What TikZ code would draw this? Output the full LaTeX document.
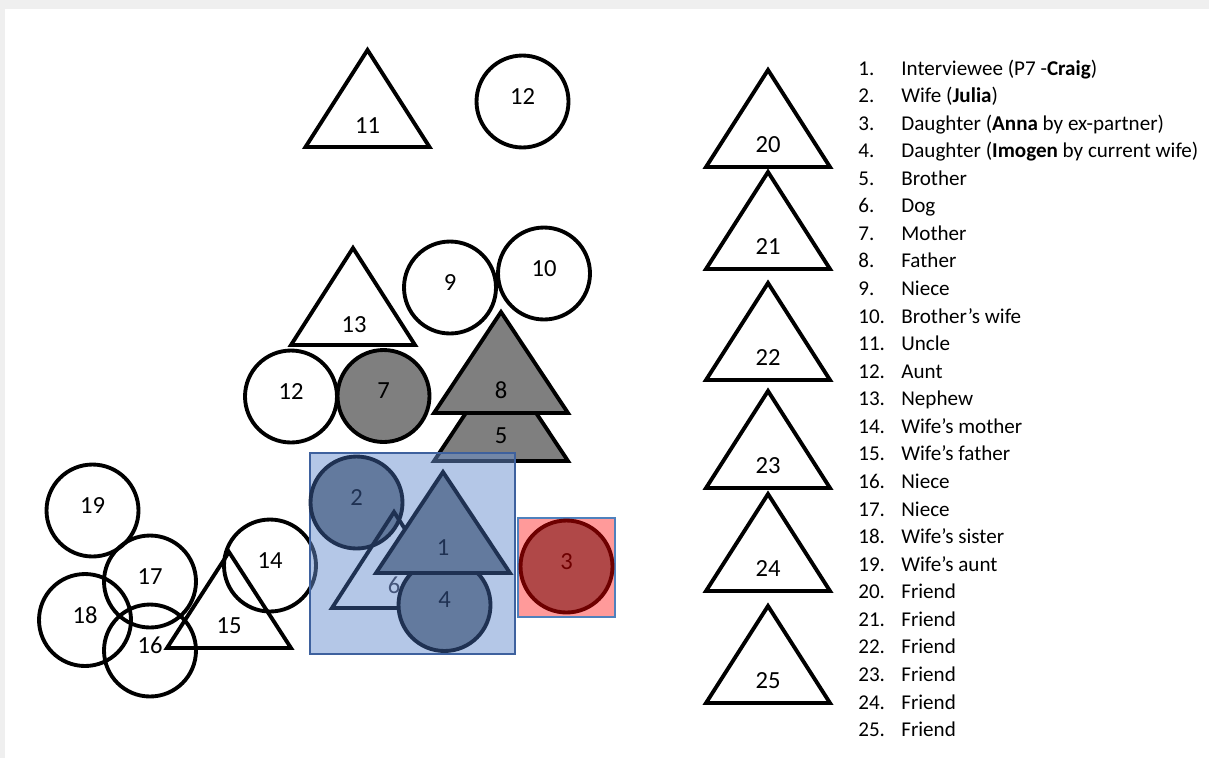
\documentclass[tikz,border=0pt]{standalone}
\usepackage{fontspec}
\setmainfont{Carlito}
\definecolor{cgrey}{HTML}{7F7F7F}
\definecolor{cnavy}{HTML}{1F3152}
\definecolor{cslate}{HTML}{637A9E}
\definecolor{cdog}{HTML}{44557A}
\definecolor{cboxfill}{HTML}{698FCF}
\definecolor{cboxedge}{HTML}{3E619E}
\definecolor{cpink}{HTML}{FF9A9A}
\definecolor{cpinkedge}{HTML}{4F81BD}
\definecolor{credfill}{HTML}{B04848}
\definecolor{cdarkred}{HTML}{6E0000}
\definecolor{cframe}{HTML}{EFEFEF}
\tikzset{
  every picture/.style={x=0.02cm, y=-0.02cm},
  person/.style={circle, draw=black, line width=2.2pt, minimum size=1.84cm, inner sep=0pt, text depth=0.2cm, font=\fontsize{14}{16}\selectfont},
  male/.style={draw=black, line width=2.2pt},
  tag/.style={inner sep=0pt, font=\fontsize{14}{16}\selectfont},
  item/.style={anchor=base west, inner sep=0pt, font=\fontsize{12}{14}\selectfont},
}

\begin{document}
\begin{tikzpicture}
  \useasboundingbox (0,0) rectangle (1209,758);
  \fill[cframe] (0,0) rectangle (1209,9);
  \fill[cframe] (0,0) rectangle (5,758);

  % outer family
  \draw[male] (305.5,147) -- ++(124,0) -- ++(-62,-97) -- cycle;
  \node[tag] (t11) at (367.5,125.5) {11};
  \node[person] (c12a) at (522.5,101.5) {12};
  \draw[male] (291,345) -- ++(124,0) -- ++(-62,-97) -- cycle;
  \node[tag] (t13) at (354,324.5) {13};
  \node[person] (c9) at (450,287.5) {9};
  \node[person] (c10) at (544,273.5) {10};
  \node[person] (c12b) at (291,396.5) {12};
  \node[person, fill=cgrey] (c7) at (383.5,396) {7};
  \draw[male, fill=cgrey] (434,461) -- ++(134,0) -- ++(-67,-101) -- cycle;
  \node[tag] (t5) at (501,436) {5};
  \draw[male, fill=cgrey] (434,413) -- ++(134,0) -- ++(-67,-101) -- cycle;
  \node[tag] (t8) at (501,390) {8};

  % wife's side
  \node[person] (c19) at (92.5,510.5) {19};
  \node[person] (c17) at (150,581.5) {17};
  \node[person] (c18) at (85,620) {18};
  \node[person] (c16) at (150,650.5) {16};
  \node[person] (c14) at (270,565.5) {14};
  \draw[male] (167,648) -- ++(124,0) -- ++(-62,-96) -- cycle;
  \node[tag] (t15) at (229,626) {15};

  % household
  \draw[draw=cboxedge, line width=1.1pt, fill=cboxfill, fill opacity=0.5] (310,453) rectangle (515,654);
  \node[person, draw=cnavy, fill=cslate, text=cnavy] (c2) at (356.5,502.5) {2};
  \draw[male, draw=cnavy] (332,608) -- ++(124,0) -- ++(-62,-96) -- cycle;
  \node[tag, text=cdog] (t6) at (394,585) {6};
  \node[person, draw=cnavy, fill=cslate, text=cnavy] (c4) at (444.5,605) {4};
  \draw[male, draw=cnavy, fill=cslate] (376,573) -- ++(134,0) -- ++(-67,-101) -- cycle;
  \node[tag, text=cnavy] (t1) at (443,548) {1};
  \draw[draw=cpinkedge, line width=1.1pt, fill=cpink] (518,518) rectangle (615,617);
  \node[person, draw=cdarkred, fill=credfill, text=cdarkred] (c3) at (566.5,566.5) {3};

  % friends
  \foreach \by/\n in {167/20, 269/21, 380/22, 488/23, 591/24, 703/25} {
    \draw[male] (706,\by) -- ++(124,0) -- ++(-62,-97) -- cycle;
    \node[tag] (t\n) at (768,\by-22) {\n};
  }

  % legend
  \foreach \txt [count=\i] in {Interviewee (P7 -\textbf{Craig}), Wife (\textbf{Julia}),
      Daughter (\textbf{Anna} by ex-partner), Daughter (\textbf{Imogen} by current wife),
      Brother, Dog, Mother, Father, Niece, Brother’s wife, Uncle, Aunt, Nephew,
      Wife’s mother, Wife’s father, Niece, Niece, Wife’s sister, Wife’s aunt,
      Friend, Friend, Friend, Friend, Friend, Friend} {
    \node[item] (n\i) at (858, {75+27.57*(\i-1)}) {\i.};
    \node[item] (e\i) at (901, {75+27.57*(\i-1)}) {\txt};
  }
\end{tikzpicture}
\end{document}
